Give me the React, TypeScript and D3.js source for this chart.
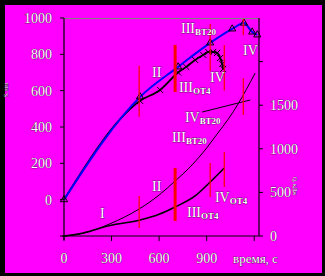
import React from "react";
import * as d3 from "d3";

// ---- data ----
const TIME_MAX = 1230;
const xTicks = [0, 300, 600, 900, 1200];
const xTickLabels = ["0", "300", "600", "900", ""];
const leftTicks = [-200, 0, 200, 400, 600, 800, 1000];
const leftTickLabels = ["", "0", "200", "400", "600", "800", "1000"];
const rightTicks = [0, 500, 1000, 1500, 2000];
const rightTickLabels = ["0", "500", "1000", "1500", ""];

// left-axis series
const blueT = [0, 480, 720, 922, 1061, 1135, 1187, 1219];
const blueV = [0, 566, 731, 863, 940, 972, 923, 907];
const blackT = [0, 480, 606, 720, 771, 827, 878, 910, 941, 966, 985, 998, 1004];
const blackV = [0, 544, 604, 700, 731, 769, 797, 813, 813, 808, 780, 747, 720];

// right-axis series
const vt20T = [0, 120, 290, 474, 600, 701, 800, 900, 966, 1036, 1100, 1150, 1206];
const vt20V = [0, 30, 140, 310, 470, 631, 800, 1010, 1170, 1340, 1520, 1680, 1869];
const ot4T = [0, 120, 290, 480, 600, 701, 827, 922, 1011];
const ot4V = [0, 35, 120, 183, 250, 333, 459, 619, 780];
const ivT = [872, 1175];
const ivV = [1422, 1560];

// phase boundaries: time, axis, from, to, heavy
const phaseT = [474, 701, 922, 1011, 1131, 1131, 474, 701, 922, 1011];
const phaseAxis = ["L", "L", "L", "L", "L", "R", "R", "R", "R", "R"];
const phaseFrom = [456, 593, 709, 599, 905, 1388, 92, 172, 447, 562];
const phaseTo = [736, 852, 967, 852, 995, 1812, 459, 780, 837, 963];
const phaseHeavy = [false, true, false, false, false, false, false, true, false, false];

// annotations: main text, subscript, time, axis, value
const noteMain = ["III", "II", "III", "IV", "IV", "IV", "III", "II", "I", "III", "IV"];
const noteSub = ["ВТ20", "", "ОТ4", "", "", "ВТ20", "ВТ20", "", "", "ОТ4", "ОТ4"];
const noteT = [738, 555, 725, 921, 1129, 763, 681, 555, 227, 776, 952];
const noteAxis = ["L", "L", "L", "L", "L", "R", "R", "R", "R", "R", "R"];
const noteV = [917, 675, 593, 648, 796, 1307, 1078, 516, 206, 218, 390];

const W = 325;
const H = 276;
const plot = { left: 64, right: 259, top: 18, bottom: 236 };
const FONT = "'Liberation Serif', 'Times New Roman', serif";

const txt = {
  fill: "#ffffff",
  stroke: "#000000",
  strokeWidth: 0.5,
  paintOrder: "stroke" as any,
  fontFamily: FONT,
};

export default function App() {
  const x = d3.scaleLinear().domain([0, TIME_MAX]).range([plot.left, plot.right]);
  const yL = d3.scaleLinear().domain([-200, 1000]).range([plot.bottom, plot.top]);
  const yR = d3.scaleLinear().domain([0, 2500]).range([plot.bottom, plot.top]);

  const lineL = d3
    .line<[number, number]>()
    .x((d) => x(d[0]))
    .y((d) => yL(d[1]))
    .curve(d3.curveMonotoneX);
  const lineR = d3
    .line<[number, number]>()
    .x((d) => x(d[0]))
    .y((d) => yR(d[1]))
    .curve(d3.curveMonotoneX);

  const blue = blueT.map((t, i) => [t, blueV[i]] as [number, number]);
  const black = blackT.map((t, i) => [t, blackV[i]] as [number, number]);
  const vt20 = vt20T.map((t, i) => [t, vt20V[i]] as [number, number]);
  const ot4 = ot4T.map((t, i) => [t, ot4V[i]] as [number, number]);
  const iv = ivT.map((t, i) => [t, ivV[i]] as [number, number]);

  const tri = d3.symbol().type(d3.symbolTriangle).size(22)()!;
  const cross = d3.symbol().type(d3.symbolX).size(26)()!;

  return (
    <svg
      width={W}
      height={H}
      style={{ position: "absolute", left: 0, top: 0, display: "block" }}
    >
      <rect x={0} y={0} width={W} height={H} fill="#000" />
      <rect x={5} y={5} width={317} height={268} fill="#ff00ff" />

      {/* top border */}
      <line x1={plot.left} x2={plot.right} y1={plot.top + 0.5} y2={plot.top + 0.5} stroke="#808080" strokeWidth={1} />

      {/* lower (right axis) curves */}
      <path d={lineR(vt20)!} fill="none" stroke="#000" strokeWidth={1} />
      <path d={lineR(ot4)!} fill="none" stroke="#000" strokeWidth={1.6} />
      <path d={d3.line<[number, number]>().x((d) => x(d[0])).y((d) => yR(d[1]))(iv)!} fill="none" stroke="#000" strokeWidth={1} />

      {/* upper (left axis) curves */}
      <path d={lineL(black)!} fill="none" stroke="#000" strokeWidth={1.8} />
      <path d={lineL(blue)!} fill="none" stroke="#0000ff" strokeWidth={2} />
      {black.slice(1).map((d, i) => (
        <path key={"c" + i} d={cross} transform={`translate(${x(d[0])},${yL(d[1])})`} fill="none" stroke="#000" strokeWidth={1} />
      ))}
      {blue.map((d, i) => (
        <path key={"t" + i} d={tri} transform={`translate(${x(d[0])},${yL(d[1])})`} fill="none" stroke="#000" strokeWidth={1} />
      ))}

      {/* phase boundaries */}
      {phaseT.map((t, i) => {
        const ys = phaseAxis[i] === "L" ? yL : yR;
        return (
          <line
            key={"p" + i}
            x1={x(t)}
            x2={x(t)}
            y1={ys(phaseFrom[i])}
            y2={ys(phaseTo[i])}
            stroke="#ff0000"
            strokeWidth={phaseHeavy[i] ? 3 : 1.2}
          />
        );
      })}

      {/* annotations */}
      {noteMain.map((m, i) => {
        const ys = noteAxis[i] === "L" ? yL : yR;
        return (
          <text key={"n" + i} x={x(noteT[i])} y={ys(noteV[i])} fontSize={14} style={txt}>
            {m}
            {noteSub[i] && (
              <tspan fontSize={9} fontWeight="bold" dy={2}>
                {noteSub[i]}
              </tspan>
            )}
          </text>
        );
      })}

      {/* axes */}
      <line x1={plot.left - 2} x2={plot.right} y1={plot.bottom} y2={plot.bottom} stroke="#000" strokeWidth={1.2} />
      <line x1={plot.left} x2={plot.left} y1={plot.top} y2={plot.bottom + 4} stroke="#000" strokeWidth={1.2} />
      <line x1={plot.right} x2={plot.right} y1={plot.top} y2={plot.bottom} stroke="#000" strokeWidth={1.2} />

      {xTicks.map((t, i) => (
        <g key={"x" + i}>
          <line x1={x(t)} x2={x(t)} y1={plot.bottom} y2={plot.bottom + 5} stroke="#000" strokeWidth={1} />
          <text x={x(t)} y={263} textAnchor="middle" fontSize={14} style={txt}>
            {xTickLabels[i]}
          </text>
        </g>
      ))}
      <text x={233} y={263} fontSize={13} style={txt}>
        время, с
      </text>

      {leftTicks.map((v, i) => (
        <g key={"l" + i}>
          <line x1={plot.left - 4} x2={plot.left} y1={yL(v)} y2={yL(v)} stroke="#000" strokeWidth={1} />
          <text x={52} y={yL(v) + 5} textAnchor="end" fontSize={14} style={txt}>
            {leftTickLabels[i]}
          </text>
        </g>
      ))}

      {rightTicks.map((v, i) => (
        <g key={"r" + i}>
          <line x1={plot.right} x2={plot.right + 4} y1={yR(v)} y2={yR(v)} stroke="#000" strokeWidth={1} />
          <text x={270} y={yR(v) + 5} fontSize={14} style={txt}>
            {rightTickLabels[i]}
          </text>
        </g>
      ))}

      {/* axis titles */}
      <text transform="translate(8,90) rotate(-90)" textAnchor="middle" fontSize={6} style={{ ...txt, strokeWidth: 0.3 }}>
        S, мм
      </text>
      <text transform="translate(293,186) rotate(90)" textAnchor="middle" fontSize={6} style={{ ...txt, strokeWidth: 0.3 }}>
        Q, кДж
      </text>
    </svg>
  );
}
